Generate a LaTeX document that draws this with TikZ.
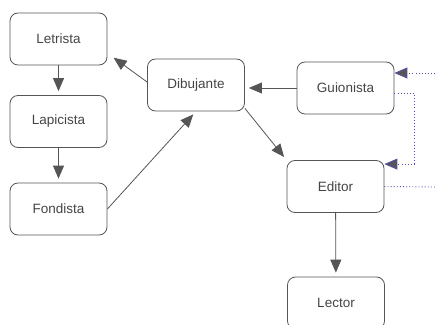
\documentclass[tikz,border=0pt]{standalone}
\usepackage{fontspec}
\setmainfont{Liberation Sans}
\usepackage{tikz}
\usetikzlibrary{arrows.meta,calc}
\definecolor{boxgray}{RGB}{85,85,85}
\definecolor{txtgray}{RGB}{68,68,68}
\definecolor{linkblue}{RGB}{85,80,160}
\tikzset{
  rol/.style={draw=boxgray,line width=0.8pt,rounded corners=8pt,minimum width=97pt,minimum height=52pt,text=txtgray,font=\fontsize{13.5}{16}\selectfont},
  flecha/.style={draw=boxgray,line width=0.8pt,shorten >=4pt,-{Triangle[length=13pt,width=11pt,fill=boxgray]}},
  punteada/.style={draw=linkblue,line width=0.9pt,dash pattern=on 0.9pt off 2.2pt}
}
\begin{document}
\begin{tikzpicture}[x=1pt,y=1pt]
\useasboundingbox (0,0) rectangle (435,324);

\node[rol] (A) at (58.5,285) {Letrista};
\node[rol] (B) at (58.5,202.5) {Lapicista};
\node[rol] (C) at (58.5,115) {Fondista};
\node[rol] (D) at (196,239) {Dibujante};
\node[rol] (E) at (345.5,236) {Guionista};
\node[rol] (F) at (335.5,137.5) {Editor};
\node[rol] (G) at (336,21) {Lector};

\coordinate (X1) at (435,251);
\coordinate (X2) at (435,137);
\coordinate (V) at (414,231);

\path[every edge/.style={flecha}]
	(A) edge (B)
	(B) edge (C)
	([yshift=3pt]D.west) edge ($(A.south east)+(3,10)$)
	(C.east) edge (D.south)
	(E.west) edge (E.west -| D.east)
	($(D.south east)+(0,3)$) edge (F.north west)
	(F) edge (G);

\draw[punteada,-{Triangle[length=13pt,width=11pt,fill=boxgray]}] (X1) -- (X1 -| E.east);
\draw[punteada,-{Triangle[length=13pt,width=11pt,fill=boxgray]}] ([yshift=-5pt]E.east) -- ([yshift=-5pt]E.east -| V) |- ([yshift=-4pt]F.north east);
\draw[punteada] (F.east) -- (X2);

\end{tikzpicture}
\end{document}
